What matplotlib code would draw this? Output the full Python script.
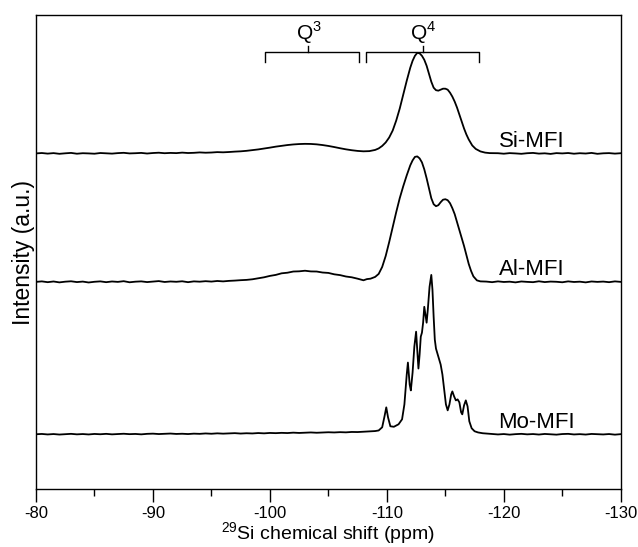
import matplotlib
matplotlib.use('Agg')
import matplotlib.pyplot as plt
from matplotlib.ticker import MultipleLocator

plt.rcParams['font.family'] = ['Liberation Sans', 'DejaVu Sans']
plt.rcParams['mathtext.fontset'] = 'custom'
plt.rcParams['mathtext.rm'] = 'Liberation Sans'
plt.rcParams['axes.unicode_minus'] = False

# 29Si NMR spectra: chemical shift (ppm) and intensity (a.u., relative to each baseline)
si_ppm = [-80, -80.5, -81, -81.5, -82, -82.5, -83, -83.5, -84, -84.5, -85, -85.5, -86, -86.5,
          -87, -87.5, -88, -88.5, -89, -89.5, -90, -90.5, -91, -91.5, -92, -92.5, -93, -93.5,
          -94, -94.5, -95, -95.5, -96, -96.5, -97, -97.5,
          -98, -98.5, -99, -99.5, -100, -100.5, -101, -101.5, -102, -102.5, -103, -103.5,
          -104, -104.5, -105, -105.5, -106, -106.5, -107, -107.5, -108,
          -108.5, -109.0, -109.3, -109.6, -109.9, -110.2, -110.5, -110.8, -111.1, -111.4,
          -111.7, -112.0, -112.2, -112.4, -112.6, -112.8, -113.0, -113.2, -113.4, -113.6,
          -113.8, -114.0, -114.2, -114.4, -114.6, -114.8, -115.0, -115.2, -115.4, -115.6,
          -115.8, -116.0, -116.2, -116.4, -116.6, -116.8, -117.0, -117.3, -117.6, -118.0,
          -118.4, -118.8,
          -119.5, -120, -120.5, -121, -121.5, -122, -122.5, -123, -123.5, -124, -124.5,
          -125, -125.5, -126, -126.5, -127, -127.5, -128, -128.5, -129, -129.5, -130]
si_int = [0.0, 0.4, -0.2, 0.3, -0.4, 0.1, 0.5, -0.3, 0.2, 0.0, -0.3, 0.4, 0.1, -0.2,
          0.3, 0.6, 0.0, 0.2, 0.5, -0.1, 0.4, 0.7, 0.2, 0.5, 0.3, 0.8, 0.4, 0.6,
          1.0, 0.7, 0.9, 1.3, 1.1, 1.4, 1.8, 2.1,
          2.6, 3.3, 4.0, 4.9, 5.8, 6.8, 7.6, 8.4, 9.0, 9.4, 9.6, 9.5,
          9.1, 8.4, 7.5, 6.4, 5.2, 4.1, 3.2, 2.5, 2.1,
          2.3, 3.5, 5, 7.5, 11, 16, 23, 33, 45, 59,
          73, 86, 93, 98, 101, 100.5, 98, 94, 88, 80,
          72, 66, 63.5, 63, 64, 65, 65, 64, 61, 57,
          52, 46, 39, 32, 25, 19, 14, 8, 4.5, 2,
          0.8, 0.3,
          0.2, -0.3, 0.3, 0.0, -0.4, 0.2, 0.5, -0.2, 0.1, -0.5, 0.3,
          0.0, 0.4, -0.3, 0.2, -0.1, 0.5, -0.4, 0.1, 0.3, -0.2, 0.2]

al_ppm = [-80, -80.5, -81, -81.5, -82, -82.5, -83, -83.5, -84, -84.5, -85, -85.5, -86, -86.5,
          -87, -87.5, -88, -88.5, -89, -89.5, -90, -90.5, -91, -91.5, -92, -92.5, -93, -93.5,
          -94, -94.5, -95, -95.5, -96, -96.5, -97, -97.5, -98,
          -98.5, -99, -99.5, -100, -100.5, -101, -101.5, -102, -102.5, -103, -103.5,
          -104, -104.5, -105, -105.5, -106, -106.5, -107, -107.5, -108,
          -108.3, -108.6, -109.0, -109.3, -109.6, -109.9, -110.2, -110.5, -110.8, -111.1,
          -111.4, -111.7, -112.0, -112.2, -112.4, -112.6, -112.8, -113.0, -113.2, -113.4,
          -113.6, -113.8, -114.0, -114.2, -114.4, -114.6, -114.8, -115.0, -115.2, -115.4,
          -115.6, -115.8, -116.0, -116.2, -116.4, -116.6, -116.8, -117.0, -117.2, -117.4,
          -117.7, -118.0,
          -118.5, -119, -119.5, -120, -120.5, -121, -121.5, -122, -122.5, -123, -123.5, -124,
          -124.5, -125, -125.5, -126, -126.5, -127, -127.5, -128, -128.5, -129, -129.5, -130]
al_int = [0.0, 0.5, -0.3, 0.4, -0.5, 0.2, 0.6, -0.2, 0.3, -0.6, 0.1, 0.5, -0.3, 0.4,
          0.0, 0.7, -0.4, 0.2, 0.5, -0.2, 0.3, 0.8, -0.1, 0.4, 0.1, 0.6, -0.3, 0.5,
          0.2, 0.7, 0.3, 0.9, 0.5, 1.0, 1.3, 1.7, 2.0,
          2.6, 3.6, 4.6, 6.0, 7.0, 8.6, 9.2, 10.4, 10.6, 11.2, 10.5,
          10.4, 9.4, 9.0, 7.6, 6.8, 5.4, 4.6, 3.2, 1.6,
          2.8, 3.2, 5, 8, 15, 26, 40, 55, 70, 84,
          96, 107, 117, 122, 125.5, 126, 124, 120, 113, 104,
          94, 84, 78, 76, 77, 80, 82.5, 83, 82, 79,
          74, 68, 60, 52, 44, 36, 27, 18, 11, 5.5,
          1.5, 0.5,
          0.3, -0.3, 0.5, -0.1, 0.2, -0.5, 0.4, 0.0, -0.3, 0.6, -0.2, 0.3,
          0.1, -0.4, 0.5, -0.1, 0.2, -0.5, 0.4, 0.0, 0.3, -0.3, 0.5, 0.0]

mo_ppm = [-80, -80.5, -81, -81.5, -82, -82.5, -83, -83.5, -84, -84.5,
          -85, -85.5, -86, -86.5, -87, -87.5, -88, -88.5, -89, -89.5,
          -90, -90.5, -91, -91.5, -92, -92.5, -93, -93.5, -94, -94.5,
          -95, -95.5, -96, -96.5, -97, -97.5, -98, -98.5, -99, -99.5,
          -100, -100.5, -101, -101.5, -102, -102.5, -103, -103.5, -104, -104.5,
          -105, -105.5, -106, -106.5, -107, -107.5, -108, -108.5,
          -109.0, -109.3, -109.6, -109.8, -109.95, -110.1, -110.3, -110.6, -111.0, -111.3,
          -111.5, -111.7, -111.8, -111.95, -112.05, -112.2, -112.35, -112.5, -112.6, -112.7,
          -112.8, -112.9, -113.0, -113.1, -113.2, -113.3, -113.4, -113.5, -113.65, -113.8,
          -113.9, -114.0, -114.1, -114.2, -114.4, -114.6, -114.75, -114.9, -115.05, -115.2,
          -115.35, -115.5, -115.6, -115.75, -115.9, -116.05, -116.2, -116.35, -116.45, -116.6,
          -116.75, -116.9, -117.05, -117.25, -117.5, -117.8, -118.2, -118.6,
          -119, -119.5, -120, -120.5, -121, -121.5, -122, -122.5, -123, -123.5, -124, -124.5,
          -125, -125.5, -126, -126.5, -127, -127.5, -128, -128.5, -129, -129.5, -130]
mo_int = [0.0, 0.3, -0.2, 0.2, -0.3, 0.1, 0.4, -0.1, 0.2, -0.2,
          0.3, 0.0, 0.4, -0.1, 0.2, 0.5, 0.1, 0.3, -0.1, 0.4,
          0.6, 0.2, 0.4, 0.7, 0.3, 0.5, 0.2, 0.6, 0.4, 0.8,
          0.5, 0.9, 0.6, 0.8, 1.1, 0.7, 1.0, 0.8, 1.2, 0.9,
          1.3, 1.1, 1.4, 1.2, 1.6, 1.3, 1.5, 1.8, 1.5, 1.7,
          2.0, 1.8, 2.1, 1.9, 2.3, 2.2, 2.5, 2.8,
          3.2, 3.8, 7, 18, 27, 17, 8, 7.5, 10, 15,
          30, 60, 72, 50, 44, 62, 88, 103, 85, 66,
          80, 98, 102, 112, 128, 120, 112, 125, 148, 160,
          145, 118, 95, 86, 78, 70, 60, 45, 30, 24,
          30, 40, 43, 38, 34, 35, 32, 22, 20, 29,
          34, 28, 13, 6, 3, 1.8, 1.0, 0.6,
          0.3, -0.2, 0.2, -0.4, 0.1, 0.4, -0.1, 0.2, -0.3, 0.3, 0.0, -0.4,
          0.2, 0.4, -0.2, 0.1, -0.3, 0.3, 0.0, -0.2, 0.2, -0.4, 0.1]

samples = ['Mo-MFI', 'Al-MFI', 'Si-MFI']
spectra = [(mo_ppm, mo_int), (al_ppm, al_int), (si_ppm, si_int)]
offsets = [0, 153, 282]

fig = plt.figure(figsize=(6.38, 5.47), dpi=100)
ax = fig.add_axes([0.0564, 0.106, 0.9166, 0.8666])

for (x, y), off, name in zip(spectra, offsets, samples):
    ax.plot(x, [v + off for v in y], color='black', lw=1.3)
    ax.text(-119.55, off + 6.5, name, fontsize=16, ha='left', va='baseline')

# Q3 / Q4 brackets
for x0, x1, xc, lab in [(-99.6, -107.6, -103.3, 'Q$^3$'), (-108.2, -117.9, -113.1, 'Q$^4$')]:
    ax.plot([x0, x0, x1, x1], [374, 384, 384, 374], color='black', lw=1)
    ax.plot([xc, xc], [384, 390], color='black', lw=1)
    ax.text(xc, 396, lab, fontsize=15, ha='center', va='baseline')

ax.set_xlim(-80, -130)
ax.set_ylim(-55, 421)
ax.xaxis.set_major_locator(MultipleLocator(10))
ax.xaxis.set_minor_locator(MultipleLocator(5))
ax.tick_params(axis='x', which='major', length=9, width=1, labelsize=12, direction='out', pad=3)
ax.tick_params(axis='x', which='minor', length=5, width=1, direction='out')
ax.set_yticks([])
for s in ax.spines.values():
    s.set_linewidth(1)

ax.set_xlabel('$^{29}$Si chemical shift (ppm)', fontsize=14, labelpad=0)
ax.set_ylabel('Intensity (a.u.)', fontsize=16.5, labelpad=1)

fig.savefig('out.png', dpi=100)
